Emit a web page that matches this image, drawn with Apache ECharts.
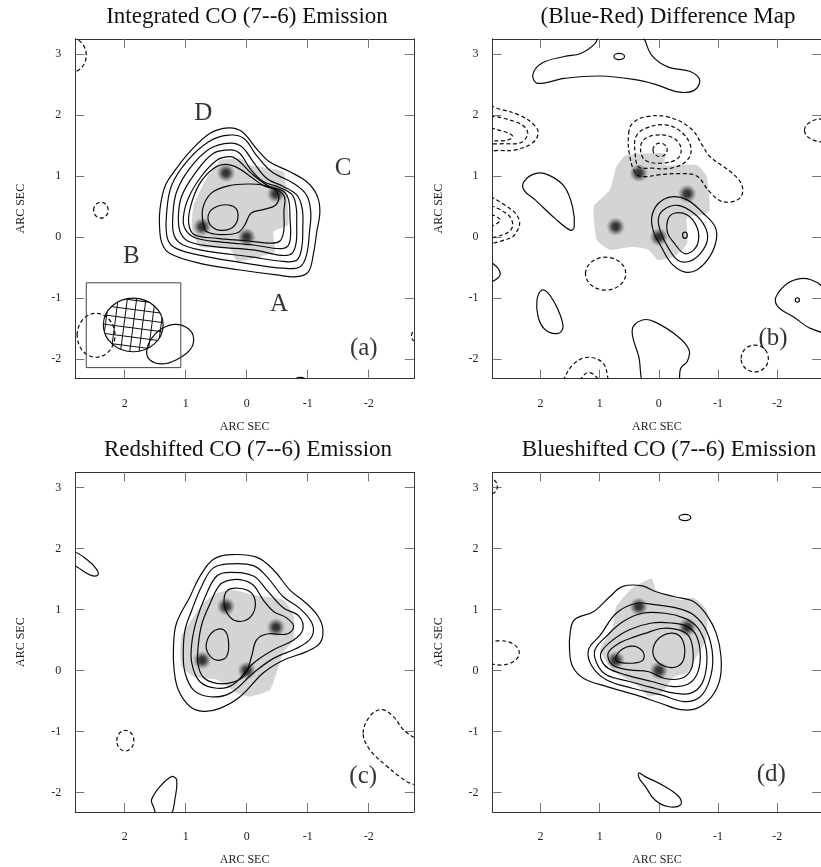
<!DOCTYPE html>
<html><head><meta charset="utf-8">
<script src="https://cdn.jsdelivr.net/npm/echarts@6/dist/echarts.min.js"></script>
<style>html,body{margin:0;padding:0;background:#fff}#c{width:821px;height:867px}</style>
</head><body><div id="c"></div>
<script>
// ---------- axis ticks / titles ----------
const ticksX = [-2, -1, 0, 1, 2];
const ticksY = [-2, -1, 0, 1, 2, 3];
const titles = ['Integrated CO (7--6) Emission', '(Blue-Red) Difference Map', 'Redshifted CO (7--6) Emission', 'Blueshifted CO (7--6) Emission'];
const panelTags = ['(a)', '(b)', '(c)', '(d)'];
const tagPos = [[-1.92, -1.82], [-1.93, -1.66], [-1.91, -1.74], [-1.90, -1.71]];
const letterNames = ['D', 'C', 'B', 'A'];
const letterPos = [[0.71, 2.03], [-1.58, 1.13], [1.89, -0.32], [-0.53, -1.10]];
// quasar image positions (A, B, C, D)
const spots = [[0, 0], [0.73, 0.17], [-0.48, 0.71], [0.34, 1.05]];

// ---------- panel (a) ----------
const a1 = [[0.30,1.79],[0.60,1.70],[0.93,1.40],[1.17,1.10],[1.34,0.83],[1.42,0.47],[1.43,0.20],[1.39,-0.10],[1.26,-0.27],[0.77,-0.43],[0.11,-0.54],[-0.49,-0.62],[-0.82,-0.65],[-1.01,-0.57],[-1.09,-0.30],[-1.15,0.09],[-1.20,0.42],[-1.15,0.69],[-0.98,0.91],[-0.71,1.07],[-0.38,1.23],[-0.16,1.45],[0.08,1.73]];
const a2 = [[0.30,1.67],[0.63,1.56],[0.98,1.24],[1.23,0.85],[1.31,0.42],[1.30,-0.02],[1.15,-0.19],[0.66,-0.32],[0.0,-0.43],[-0.60,-0.51],[-0.87,-0.49],[-0.98,-0.30],[-1.03,0.09],[-1.05,0.42],[-0.98,0.69],[-0.77,0.88],[-0.41,1.07],[-0.16,1.34],[0.05,1.62]];
const a3 = [[0.27,1.54],[0.60,1.45],[0.93,1.13],[1.15,0.74],[1.21,0.36],[1.19,0.03],[1.04,-0.13],[0.60,-0.24],[-0.05,-0.32],[-0.60,-0.40],[-0.82,-0.38],[-0.90,-0.19],[-0.92,0.14],[-0.91,0.47],[-0.82,0.69],[-0.60,0.83],[-0.33,0.96],[-0.11,1.23],[0.08,1.48]];
const a4 = [[0.27,1.43],[0.55,1.37],[0.85,1.04],[1.07,0.66],[1.12,0.31],[1.08,0.06],[0.93,-0.08],[0.49,-0.16],[-0.11,-0.21],[-0.57,-0.30],[-0.74,-0.27],[-0.81,-0.10],[-0.82,0.20],[-0.81,0.50],[-0.74,0.70],[-0.52,0.82],[-0.27,0.91],[-0.05,1.13],[0.11,1.37]];
const a5 = [[0.27,1.32],[0.49,1.26],[0.77,0.96],[0.98,0.58],[1.04,0.25],[0.98,0.09],[0.82,-0.02],[0.44,-0.08],[-0.11,-0.13],[-0.55,-0.19],[-0.68,-0.14],[-0.72,0.03],[-0.71,0.31],[-0.69,0.60],[-0.60,0.75],[-0.35,0.84],[-0.08,1.04],[0.14,1.26]];
const a6 = [[0.34,1.19],[0.55,1.12],[0.78,0.86],[0.92,0.50],[0.95,0.22],[0.86,0.04],[0.48,-0.02],[0.0,-0.06],[-0.40,-0.10],[-0.55,-0.06],[-0.61,0.12],[-0.61,0.42],[-0.62,0.66],[-0.50,0.77],[-0.28,0.84],[-0.08,0.98],[0.14,1.13]];
const a7 = [[0.71,0.20],[0.72,0.47],[0.58,0.72],[0.30,0.84],[-0.05,0.87],[-0.36,0.83],[-0.52,0.70],[-0.48,0.53],[-0.27,0.45],[-0.07,0.39],[0.03,0.20],[0.15,0.07],[0.44,0.04],[0.66,0.09]];
const a8 = [[0.63,0.36],[0.49,0.50],[0.27,0.52],[0.15,0.42],[0.19,0.20],[0.38,0.11],[0.57,0.17]];
const aBeamSide = [[1.64,-1.88],[1.56,-1.66],[1.39,-1.50],[1.17,-1.43],[0.96,-1.50],[0.87,-1.66],[0.93,-1.85],[1.15,-2.01],[1.39,-2.08],[1.58,-2.02]];
const aEllSolid = [[-0.88,-2.36,0.10,0.06]];
const aEllDashed = [[2.88,2.98,0.25,0.28],[2.39,0.44,0.12,0.13],[-2.88,-1.62,0.18,0.13],[2.47,-1.61,0.31,0.36]];
const aBeam = [1.86, -1.44, 0.49, 0.44];
const aBox = [[2.63,-0.75],[1.08,-0.75],[1.08,-2.14],[2.63,-2.14]];
const grayA = [[0.44,1.26],[0.11,1.29],[-0.05,1.18],[-0.60,1.07],[-0.66,0.69],[-0.68,0.20],[-0.44,0.09],[-0.46,-0.24],[-0.11,-0.35],[0.16,-0.40],[0.27,-0.19],[0.77,-0.16],[0.90,0.14],[0.87,0.52],[0.66,0.96],[0.49,1.18]];

// ---------- panel (b) ----------
const bTop = [[2.13,2.66],[1.98,2.85],[1.60,2.96],[1.32,3.01],[1.08,3.17],[0.97,3.35],[0.34,3.35],[0.12,2.98],[-0.15,2.79],[-0.54,2.71],[-0.69,2.57],[-0.59,2.40],[-0.32,2.38],[0.05,2.50],[0.40,2.58],[1.0,2.64],[1.6,2.60],[2.05,2.52]];
const bD1 = [[0.51,1.70],[0.45,1.86],[0.23,1.97],[-0.15,1.97],[-0.54,1.78],[-0.75,1.48],[-0.86,1.32],[-1.25,1.04],[-1.41,0.83],[-1.36,0.63],[-1.08,0.58],[-0.86,0.74],[-0.64,1.00],[-0.37,1.04],[0.01,1.02],[0.23,0.99],[0.39,1.04],[0.50,1.37]];
const bD2 = [[0.39,1.64],[0.23,1.78],[-0.10,1.84],[-0.37,1.73],[-0.54,1.48],[-0.48,1.26],[-0.21,1.13],[0.12,1.13],[0.34,1.15],[0.40,1.37]];
const bD3 = [[0.26,1.59],[0.07,1.67],[-0.21,1.64],[-0.37,1.48],[-0.32,1.29],[-0.04,1.21],[0.23,1.26],[0.31,1.43]];
const bS1 = [[0.12,0.33],[0.01,0.55],[-0.21,0.66],[-0.48,0.61],[-0.75,0.39],[-0.95,0.17],[-0.97,-0.05],[-0.86,-0.32],[-0.64,-0.54],[-0.43,-0.57],[-0.21,-0.43],[-0.04,-0.16],[0.09,0.09]];
const bS2 = [[0.01,0.28],[-0.07,0.44],[-0.32,0.52],[-0.59,0.39],[-0.78,0.17],[-0.82,-0.05],[-0.70,-0.27],[-0.51,-0.40],[-0.32,-0.38],[-0.15,-0.16],[-0.04,0.06]];
const bS3 = [[-0.15,0.28],[-0.26,0.39],[-0.48,0.36],[-0.64,0.17],[-0.67,-0.05],[-0.59,-0.21],[-0.43,-0.27],[-0.26,-0.10],[-0.15,0.06]];
const bLeftDrop = [[2.28,0.91],[2.09,1.04],[1.87,1.02],[1.60,0.83],[1.46,0.50],[1.43,0.17],[1.49,0.11],[1.76,0.31],[2.09,0.61],[2.28,0.77]];
const bLowDrop = [[2.06,-1.03],[1.98,-0.87],[1.87,-0.92],[1.70,-1.20],[1.62,-1.47],[1.70,-1.58],[1.92,-1.52],[2.04,-1.31]];
const bBottom = [[0.45,-1.52],[0.28,-1.36],[0.07,-1.39],[-0.32,-1.63],[-0.51,-1.85],[-0.48,-2.04],[-0.37,-2.15],[-0.30,-2.45],[0.22,-2.45],[0.34,-1.96]];
const bRight = [[-1.98,-0.98],[-2.17,-0.76],[-2.39,-0.68],[-2.57,-0.70],[-2.75,-0.80],[-2.95,-1.05],[-2.90,-1.55],[-2.57,-1.50],[-2.28,-1.31],[-2.01,-1.14]];
const bEdgeSolid = [[2.95,-0.40],[2.81,-0.43],[2.68,-0.60],[2.81,-0.73],[2.95,-0.75]];
const bL1a = [[2.95,2.15],[2.70,2.10],[2.36,2.00],[2.11,1.84],[2.04,1.70],[2.14,1.54],[2.42,1.43],[2.69,1.42],[2.95,1.45]];
const bL1b = [[2.95,1.95],[2.42,1.89],[2.22,1.73],[2.31,1.56],[2.58,1.53],[2.95,1.58]];
const bL1c = [[2.95,1.78],[2.62,1.73],[2.47,1.65],[2.60,1.58],[2.95,1.62]];
const bL2a = [[2.95,0.65],[2.52,0.47],[2.36,0.28],[2.39,0.11],[2.52,-0.02],[2.95,-0.06]];
const bL2b = [[2.95,0.50],[2.58,0.39],[2.47,0.20],[2.58,0.06],[2.95,0.02]];
const bL2c = [[2.95,0.38],[2.68,0.28],[2.95,0.15]];
const bBotDashA = [[1.62,-2.45],[1.60,-2.32],[1.43,-2.07],[1.19,-1.97],[0.94,-2.07],[0.86,-2.32],[0.85,-2.45]];
const bBotDashB = [[1.35,-2.45],[1.30,-2.30],[1.19,-2.22],[1.05,-2.30],[1.02,-2.45]];
const bEllSolid = [[0.67,2.96,0.09,0.05],[-0.44,0.03,0.04,0.05],[-2.34,-1.03,0.035,0.035]];
const bEllDashed = [[-0.02,1.43,0.12,0.11],[0.90,-0.60,0.34,0.27],[-1.62,-1.99,0.23,0.22],[-2.78,1.75,0.32,0.19]];
const grayB = [[0.56,1.34],[-0.10,1.37],[-0.10,1.18],[-0.64,1.18],[-0.81,0.99],[-0.86,0.44],[-0.75,0.36],[-0.48,0.33],[-0.48,-0.10],[-0.26,-0.32],[0.01,-0.38],[0.17,-0.21],[0.45,-0.16],[0.83,-0.21],[1.05,-0.05],[1.10,0.50],[0.83,0.77],[0.72,1.15]];

// ---------- panel (c) ----------
const c1 = [[0.27,1.90],[0.55,1.82],[0.77,1.54],[0.93,1.21],[1.15,0.78],[1.20,0.39],[1.19,0.01],[1.12,-0.32],[0.93,-0.59],[0.71,-0.67],[0.44,-0.62],[0.11,-0.43],[-0.27,-0.04],[-0.60,0.17],[-0.98,0.31],[-1.20,0.45],[-1.25,0.67],[-1.17,0.89],[-0.98,1.10],[-0.71,1.32],[-0.44,1.65],[-0.16,1.86]];
const c2 = [[0.27,1.75],[0.55,1.68],[0.74,1.38],[0.90,0.99],[1.01,0.67],[1.04,0.28],[1.01,-0.04],[0.87,-0.32],[0.60,-0.43],[0.27,-0.37],[-0.11,-0.04],[-0.44,0.20],[-0.87,0.39],[-1.07,0.56],[-1.07,0.78],[-0.87,1.02],[-0.60,1.21],[-0.33,1.54],[-0.11,1.72]];
const c3 = [[0.27,1.61],[0.49,1.55],[0.68,1.21],[0.82,0.83],[0.90,0.45],[0.90,0.12],[0.77,-0.18],[0.49,-0.29],[0.22,-0.23],[-0.11,0.12],[-0.44,0.34],[-0.77,0.50],[-0.92,0.67],[-0.86,0.89],[-0.60,1.03],[-0.33,1.32],[-0.11,1.55]];
const c4 = [[0.33,1.47],[0.11,1.49],[-0.11,1.40],[-0.27,1.16],[-0.44,0.97],[-0.66,0.86],[-0.77,0.72],[-0.66,0.60],[-0.33,0.60],[-0.16,0.50],[-0.08,0.23],[0.03,-0.07],[0.22,-0.19],[0.49,-0.21],[0.71,-0.11],[0.80,0.12],[0.79,0.45],[0.73,0.78],[0.60,1.10],[0.46,1.38]];
const c5 = [[0.33,1.30],[0.14,1.35],[-0.08,1.27],[-0.14,1.05],[-0.03,0.85],[0.16,0.81],[0.30,0.91],[0.37,1.10]];
const c6 = [[0.66,0.45],[0.55,0.64],[0.38,0.67],[0.30,0.50],[0.33,0.23],[0.49,0.17],[0.63,0.28]];
const cEdge = [[2.85,1.95],[2.62,1.82],[2.46,1.66],[2.44,1.57],[2.55,1.56],[2.75,1.68],[2.90,1.80]];
const cDrop = [[1.56,-2.12],[1.42,-1.90],[1.23,-1.74],[1.15,-1.79],[1.17,-2.07],[1.26,-2.40],[1.45,-2.40],[1.53,-2.23]];
const cRightDash = [[-1.91,-1.03],[-2.02,-0.75],[-2.21,-0.64],[-2.40,-0.75],[-2.57,-0.97],[-2.75,-1.10],[-2.95,-1.20],[-2.95,-1.90],[-2.69,-1.85],[-2.51,-1.74],[-2.30,-1.57],[-2.02,-1.30]];
const cEllDashed = [[1.99,-1.15,0.14,0.17]];
const grayC = [[0.22,1.32],[-0.11,1.24],[-0.60,1.16],[-0.77,0.89],[-0.77,0.50],[-0.60,0.30],[-0.49,-0.04],[-0.38,-0.32],[-0.05,-0.43],[0.16,-0.37],[0.49,-0.15],[0.87,-0.10],[1.07,0.07],[1.07,0.56],[0.71,1.10],[0.49,1.27]];

// ---------- panel (d) ----------
const d1 = [[1.50,0.61],[1.43,0.83],[1.10,0.97],[0.83,1.21],[0.61,1.38],[0.28,1.39],[0.07,1.30],[-0.26,1.21],[-0.59,1.13],[-0.81,0.91],[-0.97,0.61],[-1.05,0.23],[-1.03,-0.15],[-0.89,-0.43],[-0.64,-0.62],[-0.37,-0.64],[-0.04,-0.54],[0.39,-0.40],[0.89,-0.26],[1.27,-0.13],[1.46,0.07],[1.51,0.34]];
const d2 = [[1.19,0.34],[0.99,0.58],[0.72,0.94],[0.39,1.10],[0.07,1.08],[-0.32,1.02],[-0.59,0.91],[-0.81,0.64],[-0.91,0.23],[-0.86,-0.15],[-0.70,-0.43],[-0.43,-0.51],[-0.04,-0.40],[0.45,-0.29],[0.89,-0.15],[1.13,0.07]];
const d3 = [[1.08,0.34],[0.89,0.56],[0.61,0.80],[0.28,0.94],[-0.10,0.94],[-0.43,0.86],[-0.64,0.72],[-0.78,0.45],[-0.81,0.12],[-0.73,-0.21],[-0.54,-0.37],[-0.26,-0.37],[0.07,-0.29],[0.50,-0.18],[0.89,-0.07],[1.05,0.12]];
const d4 = [[0.97,0.31],[0.78,0.50],[0.50,0.67],[0.12,0.78],[-0.21,0.78],[-0.48,0.72],[-0.64,0.56],[-0.70,0.23],[-0.64,-0.07],[-0.48,-0.23],[-0.21,-0.26],[0.12,-0.18],[0.56,-0.07],[0.86,0.04],[0.97,0.17]];
const d5 = [[0.86,0.28],[0.67,0.45],[0.39,0.56],[0.23,0.61],[-0.04,0.69],[-0.32,0.67],[-0.51,0.56],[-0.58,0.28],[-0.54,0.01],[-0.37,-0.13],[-0.10,-0.13],[0.17,-0.02],[0.50,0.01],[0.78,0.09]];
const d6 = [[0.67,0.31],[0.45,0.40],[0.27,0.31],[0.27,0.17],[0.45,0.12],[0.72,0.16]];
const d7 = [[0.09,0.39],[-0.04,0.56],[-0.26,0.61],[-0.40,0.50],[-0.43,0.23],[-0.32,0.07],[-0.10,0.07],[0.07,0.20]];
const dDrop = [[0.34,-1.68],[0.23,-1.74],[-0.10,-1.90],[-0.34,-2.07],[-0.37,-2.20],[-0.15,-2.23],[0.07,-2.12],[0.23,-1.90],[0.33,-1.77]];
const dEllSolid = [[-0.44,2.51,0.10,0.05]];
const dEllDashed = [[2.68,0.29,0.32,0.20],[2.83,3.02,0.10,0.12]];
const grayD = [[0.45,1.35],[0.12,1.51],[0.04,1.30],[-0.37,1.16],[-0.59,1.19],[-0.81,0.99],[-0.80,0.50],[-0.64,0.23],[-0.48,-0.04],[-0.26,-0.10],[-0.04,-0.37],[0.17,-0.43],[0.34,-0.26],[0.78,0.01],[0.99,0.34],[0.78,0.72],[0.72,1.05]];

// ---------- layout ----------
const F = "'Liberation Serif','Times New Roman',serif";
const X_MIN = -2.74, X_MAX = 2.81, Y_MIN = -2.32, Y_MAX = 3.25;
const grids = [
  {left: 75.3, top: 38.8, width: 338.5, height: 339.8},
  {left: 492.6, top: 38.8, width: 338.5, height: 339.8},
  {left: 75.3, top: 472.4, width: 338.5, height: 339.8},
  {left: 492.6, top: 472.4, width: 338.5, height: 339.8}
];
const titleX = [242, 663, 243, 664];
const titleY = [0, 0, 433, 433];

const LINE = '#0a0a0a';
const DASH = [4, 2.6];

function clipOf(params) {
  const cs = params.coordSys;
  return {type: 'rect', shape: {x: cs.x, y: cs.y, width: cs.width, height: cs.height}};
}
function polySeries(g, pts, opt) {
  opt = opt || {};
  return {
    type: 'custom', xAxisIndex: g * 2, yAxisIndex: g * 2, data: pts, silent: true,
    z: opt.z || 5,
    renderItem: function (params, api) {
      if (params.dataIndex !== 0) return null;
      const points = pts.map(p => api.coord(p));
      return {
        type: 'group', clipPath: clipOf(params),
        children: [{
          type: 'polygon',
          shape: {points: points, smooth: opt.smooth === undefined ? 0.38 : opt.smooth},
          style: {
            fill: opt.fill || 'none',
            stroke: opt.fill ? null : (opt.stroke || LINE),
            lineWidth: opt.lw || 1.2,
            lineDash: opt.dashed ? DASH : null
          }
        }]
      };
    }
  };
}
function ellSeries(g, list, dashed) {
  return {
    type: 'custom', xAxisIndex: g * 2, yAxisIndex: g * 2, data: list, silent: true, z: 5,
    renderItem: function (params, api) {
      const c = api.coord([api.value(0), api.value(1)]);
      const s = api.size([api.value(2), api.value(3)]);
      return {
        type: 'group', clipPath: clipOf(params),
        children: [{
          type: 'ellipse',
          shape: {cx: c[0], cy: c[1], rx: Math.abs(s[0]), ry: Math.abs(s[1])},
          style: {fill: 'none', stroke: LINE, lineWidth: 1.2, lineDash: dashed ? DASH : null}
        }]
      };
    }
  };
}
function beamSeries(g, e) {
  return {
    type: 'custom', xAxisIndex: g * 2, yAxisIndex: g * 2, data: [e], silent: true, z: 6,
    renderItem: function (params, api) {
      const c = api.coord([api.value(0), api.value(1)]);
      const s = api.size([api.value(2), api.value(3)]);
      const rx = Math.abs(s[0]), ry = Math.abs(s[1]);
      const lines = [];
      const step = 9.2;
      for (let k = -9; k <= 9; k++) {
        lines.push({type: 'line', shape: {x1: c[0] + k * step, y1: c[1] - 80, x2: c[0] + k * step, y2: c[1] + 80}, style: {stroke: '#111', lineWidth: 1}});
        lines.push({type: 'line', shape: {x1: c[0] - 80, y1: c[1] + k * step + 3, x2: c[0] + 80, y2: c[1] + k * step + 3}, style: {stroke: '#111', lineWidth: 1}});
      }
      return {
        type: 'group',
        children: [
          {type: 'group', clipPath: {type: 'ellipse', shape: {cx: c[0], cy: c[1], rx: rx, ry: ry}},
           children: [{type: 'group', rotation: -0.13, originX: c[0], originY: c[1], children: lines}]},
          {type: 'ellipse', shape: {cx: c[0], cy: c[1], rx: rx, ry: ry}, style: {fill: 'none', stroke: '#111', lineWidth: 1.2}}
        ]
      };
    }
  };
}
function spotSeries(g) {
  return {
    type: 'scatter', xAxisIndex: g * 2, yAxisIndex: g * 2, data: spots, symbolSize: 19, silent: true, z: 4,
    itemStyle: {
      color: {type: 'radial', x: 0.5, y: 0.5, r: 0.5, colorStops: [
        {offset: 0, color: 'rgba(0,0,0,1)'},
        {offset: 0.35, color: 'rgba(10,10,10,0.92)'},
        {offset: 0.65, color: 'rgba(50,50,50,0.55)'},
        {offset: 1, color: 'rgba(110,110,110,0)'}
      ]}
    }
  };
}
function textSeries(g, names, pos, size) {
  return {
    type: 'scatter', xAxisIndex: g * 2, yAxisIndex: g * 2, symbolSize: 0, silent: true, z: 8,
    data: names.map((n, i) => ({name: n, value: pos[i]})),
    label: {show: true, position: 'inside', formatter: '{b}', color: '#000', fontFamily: F, fontSize: size}
  };
}

const xAxis = [], yAxis = [];
for (let g = 0; g < 4; g++) {
  const lineStyle = {color: '#333', width: 1};
  const tick = {show: true, inside: true, length: 9, lineStyle: {color: '#777', width: 1}};
  xAxis.push({gridIndex: g, type: 'value', inverse: true, min: X_MIN, max: X_MAX, position: 'bottom',
    axisLine: {show: true, onZero: false, lineStyle},
    axisTick: Object.assign({customValues: ticksX}, tick),
    axisLabel: {show: true, customValues: ticksX, margin: 19, color: '#222', fontFamily: F, fontSize: 12},
    splitLine: {show: false},
    name: 'ARC SEC', nameLocation: 'middle', nameGap: 42,
    nameTextStyle: {color: '#222', fontFamily: F, fontSize: 12}});
  xAxis.push({gridIndex: g, type: 'value', inverse: true, min: X_MIN, max: X_MAX, position: 'top',
    axisLine: {show: true, onZero: false, lineStyle},
    axisTick: Object.assign({customValues: ticksX}, tick),
    axisLabel: {show: false}, splitLine: {show: false}});
  yAxis.push({gridIndex: g, type: 'value', min: Y_MIN, max: Y_MAX, position: 'left',
    axisLine: {show: true, onZero: false, lineStyle},
    axisTick: Object.assign({customValues: ticksY}, tick),
    axisLabel: {show: true, customValues: ticksY, margin: 14, color: '#222', fontFamily: F, fontSize: 12},
    splitLine: {show: false},
    name: 'ARC SEC', nameLocation: 'middle', nameGap: 48, nameRotate: 90,
    nameTextStyle: {color: '#222', fontFamily: F, fontSize: 12}});
  yAxis.push({gridIndex: g, type: 'value', min: Y_MIN, max: Y_MAX, position: 'right',
    axisLine: {show: true, onZero: false, lineStyle},
    axisTick: Object.assign({customValues: ticksY}, tick),
    axisLabel: {show: false}, splitLine: {show: false}});
}

const series = [];
const grayFill = '#d4d4d4';
// panel a
series.push(polySeries(0, grayA, {fill: grayFill, smooth: 0.15, z: 2}));
series.push(spotSeries(0));
[a1, a2, a3, a4, a5, a6, a7, a8, aBeamSide].forEach(p => series.push(polySeries(0, p)));
series.push(ellSeries(0, aEllSolid, false));
series.push(ellSeries(0, aEllDashed, true));
series.push(polySeries(0, aBox, {smooth: 0, stroke: '#444', lw: 1}));
series.push(beamSeries(0, aBeam));
series.push(textSeries(0, letterNames, letterPos, 25));
// panel b
series.push(polySeries(1, grayB, {fill: grayFill, smooth: 0.15, z: 2}));
series.push(spotSeries(1));
[bTop, bS1, bS2, bS3, bLeftDrop, bLowDrop, bBottom, bRight, bEdgeSolid].forEach(p => series.push(polySeries(1, p)));
[bD1, bD2, bD3, bL1a, bL1b, bL1c, bL2a, bL2b, bL2c, bBotDashA, bBotDashB].forEach(p => series.push(polySeries(1, p, {dashed: true})));
series.push(ellSeries(1, bEllSolid, false));
series.push(ellSeries(1, bEllDashed, true));
// panel c
series.push(polySeries(2, grayC, {fill: grayFill, smooth: 0.15, z: 2}));
series.push(spotSeries(2));
[c1, c2, c3, c4, c5, c6, cEdge, cDrop].forEach(p => series.push(polySeries(2, p)));
series.push(polySeries(2, cRightDash, {dashed: true}));
series.push(ellSeries(2, cEllDashed, true));
// panel d
series.push(polySeries(3, grayD, {fill: grayFill, smooth: 0.15, z: 2}));
series.push(spotSeries(3));
[d1, d2, d3, d4, d5, d6, d7, dDrop].forEach(p => series.push(polySeries(3, p)));
series.push(ellSeries(3, dEllSolid, false));
series.push(ellSeries(3, dEllDashed, true));
// panel tags
for (let g = 0; g < 4; g++) series.push(textSeries(g, [panelTags[g]], [tagPos[g]], 25));

const chart = echarts.init(document.getElementById('c'), null, {renderer: 'canvas'});
chart.setOption({
  animation: false,
  backgroundColor: '#fff',
  title: titles.map((t, i) => ({text: t, left: titleX[i], top: titleY[i], textAlign: 'center',
    textStyle: {fontFamily: F, fontSize: 23, fontWeight: 'normal', color: '#111'}})),
  grid: grids,
  xAxis: xAxis,
  yAxis: yAxis,
  series: series
});
</script></body></html>
